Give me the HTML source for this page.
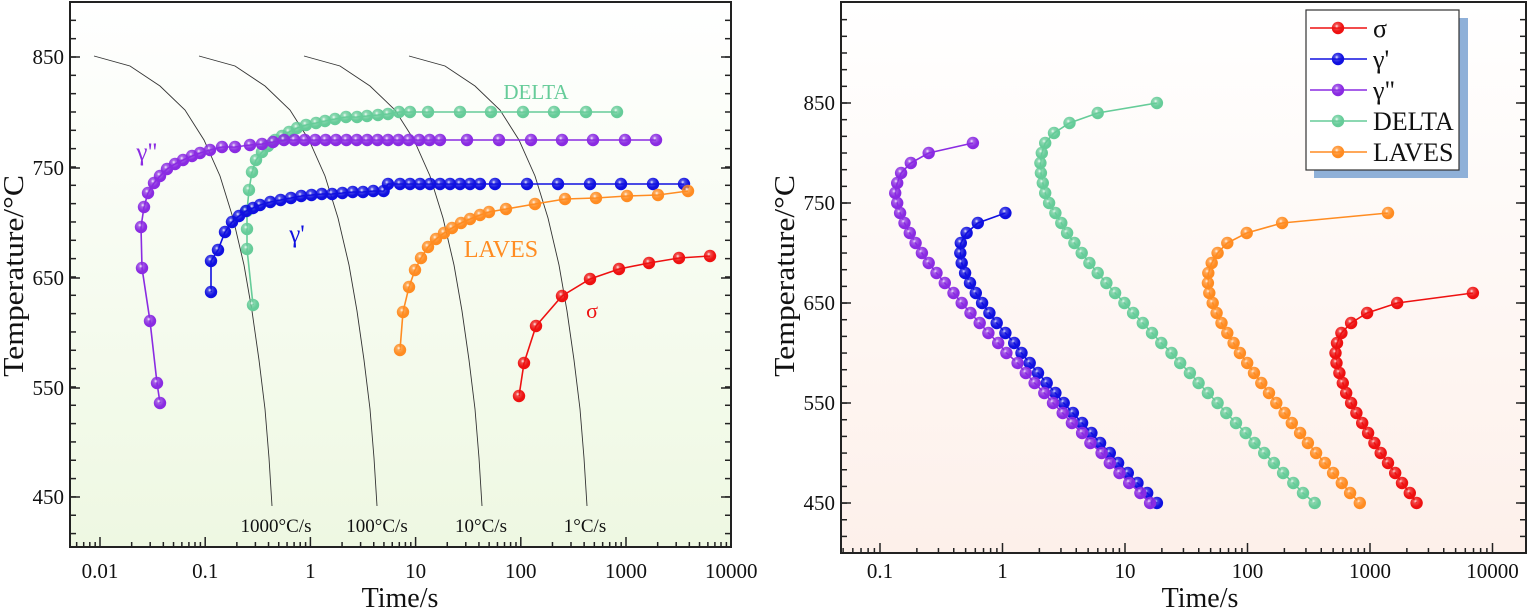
<!DOCTYPE html>
<html><head><meta charset="utf-8"><style>
html,body{margin:0;padding:0;background:#fff;}
svg{display:block;font-family:"Liberation Serif",serif;}
</style></head><body>
<svg id="s" width="1530" height="609" xmlns="http://www.w3.org/2000/svg">
<defs>
<linearGradient id="bgL" x1="0" y1="0" x2="0" y2="1"><stop offset="0" stop-color="#ffffff"/><stop offset="1" stop-color="#eef8e2"/></linearGradient>
<linearGradient id="bgR" x1="0" y1="0" x2="0" y2="1"><stop offset="0" stop-color="#ffffff"/><stop offset="1" stop-color="#fdf0ea"/></linearGradient>
</defs>
</svg>
<script>
const NS="http://www.w3.org/2000/svg",S=document.getElementById('s');
function el(t,a,txt){const e=document.createElementNS(NS,t);for(const k in a)e.setAttribute(k,a[k]);if(txt!==undefined)e.textContent=txt;S.appendChild(e);return e;}
const cols={r:'#ee1111',b:'#1010e0',p:'#8a2be2',g:'#66cc99',o:'#ff8c22'};
const defs=S.querySelector('defs');
for(const k in cols){const g=document.createElementNS(NS,'radialGradient');g.setAttribute('id','m'+k);g.setAttribute('cx','0.4');g.setAttribute('cy','0.35');g.setAttribute('r','0.65');
g.innerHTML='<stop offset="0" stop-color="#ffffff"/><stop offset="0.25" stop-color="'+cols[k]+'" stop-opacity="0.75"/><stop offset="0.7" stop-color="'+cols[k]+'"/><stop offset="1" stop-color="'+cols[k]+'"/>';defs.appendChild(g);}
function series(pts,k,r){el('polyline',{points:pts.map(p=>p.join(',')).join(' '),fill:'none',stroke:cols[k],'stroke-width':1.6});
for(const p of pts)el('circle',{cx:p[0],cy:p[1],r:r||6.2,fill:'url(#m'+k+')'});}
// ---------- LEFT PLOT ----------
el('rect',{x:70,y:2,width:661,height:545,fill:'url(#bgL)'});
const base=[[94,56],[130,66],[160,86],[185,110],[204,140],[220,176],[233,218],[244,265],[252,311],[259,360],[265,409],[269,458],[272,506]];
for(let i=0;i<4;i++){const off=i*105;el('polyline',{points:base.map(p=>(p[0]+off)+','+p[1]).join(' '),fill:'none',stroke:'#333','stroke-width':0.9});}
const cl=['1000°C/s','100°C/s','10°C/s','1°C/s'];
[276,377,481,585].forEach((x,i)=>el('text',{x:x,y:532,'font-size':19,'text-anchor':'middle',fill:'#111'},cl[i]));
let P=[[160,403],[157,383],[150,321],[142,268],[141,227],[144,207],[148,193],[154,183],[160,176],[167,169],[175,164],[183,160],[192,156],[200,153],[210,150],[222,147],[235,147],[250,145],[262,144],[273,142]];
for(let x=284;x<=450;x+=10.4)P.push([x,140]);[467,499,531,562,593,625,656].forEach(x=>P.push([x,140]));
let G=[[253,305],[247,249],[247,229],[247,211],[249,190],[252,172],[256,160],[262,152],[268,146],[275,140],[282,136],[289,132],[297,128],[306,125],[316,123],[325,121],[335,119],[346,117],[357,117],[367,116],[378,115],[388,114],[399,112],[410,112]];
[428,460,491,523,554,586,617].forEach(x=>G.push([x,112]));
let B=[[211,292],[211,261]];for(let x=218;x<388;){B.push([x,Math.round(184+1350/(x-198.5)*0.95)]);x+= x<260?7:10.3;}
[388,400,410,420,430,440,450,460,470,480,495,527,558,590,621,653,684].forEach(x=>B.push([x,184]));
let O=[[400,350],[403,312],[409,287],[415,270],[421,258],[428,247],[436,239],[444,233],[452,228],[461,223],[470,219],[480,215],[489,212],[506,209],[535,204],[565,199],[596,198],[627,196],[658,195],[688,191]];
let R=[[519,396],[524,363],[536,326],[562,296],[590,279],[619,269],[649,263],[679,258],[710,256]];
series(G,'g');series(P,'p');series(B,'b');series(O,'o');series(R,'r');
el('text',{x:536,y:99,'font-size':21,fill:'#66cc99','text-anchor':'middle'},'DELTA');
el('text',{x:147,y:160,'font-size':25,fill:'#8a2be2','text-anchor':'middle'},'γ"');
el('text',{x:297,y:242,'font-size':25,fill:'#1010e0','text-anchor':'middle'},"γ'");
el('text',{x:501,y:257,'font-size':24,fill:'#ff8c22','text-anchor':'middle'},'LAVES');
el('text',{x:592,y:318,'font-size':22,fill:'#ee1111','text-anchor':'middle'},'σ');
function axes(x0,x1,y0,y1,decX0,decPx,firstDec,nDec,yTicks,yLab,minorSp,xlabs,labx){
 el('rect',{x:x0,y:y0,width:x1-x0,height:y1-y0,fill:'none',stroke:'#222','stroke-width':2});
 for(let y=yTicks[0]-minorSp*10;y<=y1;y+=minorSp){if(y<=y0+1||y>=y1-1)continue;
  el('line',{x1:x1,y1:y,x2:x1-6,y2:y,stroke:'#222','stroke-width':1.5});
  el('line',{x1:x0,y1:y,x2:x0+6,y2:y,stroke:'#222','stroke-width':1.5});}
 yTicks.forEach((y,i)=>{el('line',{x1:x0,y1:y,x2:x0+10,y2:y,stroke:'#222','stroke-width':1.5});
  el('line',{x1:x1,y1:y,x2:x1-10,y2:y,stroke:'#222','stroke-width':1.5});
  el('text',{x:x0-6,y:y+7,'font-size':21,'text-anchor':'end',fill:'#111'},yLab[i]);});
 for(let d=firstDec-1;d<firstDec+nDec;d++){for(let m=1;m<10;m++){const x=decX0+(d-firstDec)*decPx+Math.log10(m)*decPx;
  if(x<x0+1||x>x1-1)continue;el('line',{x1:x,y1:y1,x2:x,y2:y1-(m==1?10:5),stroke:'#222','stroke-width':1.5});}}
 xlabs.forEach((l,i)=>el('text',{x:decX0+i*decPx,y:578,'font-size':21,'text-anchor':'middle',fill:'#111'},l));
 el('text',{x:labx,y:607,'font-size':28,'text-anchor':'middle',fill:'#111'},'Time/s');
 el('text',{x:0,y:0,'font-size':28,'text-anchor':'middle',fill:'#111',transform:'translate('+(x0-47)+',276) rotate(-90) scale(1.13,1)'},'Temperature/°C');
}
axes(70,731,2,547,100,105.2,0,7,[57,168,278,388,497],['850','750','650','550','450'],18.33,['0.01','0.1','1','10','100','1000','10000'],400);
// ---------- RIGHT PLOT ----------
el('rect',{x:841,y:2,width:685,height:551,fill:'url(#bgR)'});
function rs(tab){return tab.map(p=>[+(p[1]/2.06+770).toFixed(1),103+(850-p[0])]);}
const rp=[[450,783],[460,763],[470,740],[480,720],[490,700],[500,683],[510,660],[520,643],[530,622],[540,603],[550,583],[560,565],[570,545],[580,527],[590,510],[600,487],[610,470],[620,450],[630,432],[640,413],[650,395],[660,378],[670,360],[680,343],[690,327],[700,313],[710,300],[720,288],[730,277],[740,268],[750,262],[760,258],[770,262],[780,270],[790,290],[800,327],[810,418]];
const rb=[[450,797],[460,777],[470,757],[480,737],[490,717],[500,700],[510,680],[520,662],[530,643],[540,624],[550,605],[560,588],[570,570],[580,552],[590,535],[600,518],[610,503],[620,485],[630,467],[640,452],[650,437],[660,424],[670,412],[680,402],[690,395],[700,392],[710,393],[720,405],[730,428],[740,485]];
const rg=[[450,1122],[460,1098],[470,1078],[480,1057],[490,1038],[500,1018],[510,998],[520,980],[530,960],[540,940],[550,922],[560,902],[570,883],[580,865],[590,845],[600,827],[610,806],[620,787],[630,768],[640,748],[650,730],[660,711],[670,693],[680,675],[690,658],[700,642],[710,627],[720,612],[730,600],[740,588],[750,575],[760,567],[770,562],[780,558],[790,557],[800,560],[810,567],[820,585],[830,617],[840,675],[850,797]];
const ro=[[450,1215],[460,1195],[470,1178],[480,1160],[490,1143],[500,1125],[510,1108],[520,1092],[530,1075],[540,1060],[550,1043],[560,1028],[570,1012],[580,997],[590,983],[600,968],[610,955],[620,942],[630,930],[640,920],[650,912],[660,905],[670,902],[680,903],[690,910],[700,922],[710,942],[720,982],[730,1055],[740,1273]];
const rr=[[450,1332],[460,1318],[470,1302],[480,1288],[490,1273],[500,1258],[510,1245],[520,1232],[530,1220],[540,1208],[550,1197],[560,1187],[570,1180],[580,1173],[590,1167],[600,1165],[610,1168],[620,1177],[630,1197],[640,1230],[650,1292],[660,1448]];
series(rs(rg),'g');series(rs(ro),'o');series(rs(rr),'r');series(rs(rb),'b');series(rs(rp),'p');
axes(841,1526,2,553,880,122.5,-1,6,[103,203,303,403,503],['850','750','650','550','450'],16.67,['0.1','1','10','100','1000','10000'],1200);
el('rect',{x:1314,y:18,width:154,height:160,fill:'#8fb0d8'});
el('rect',{x:1306,y:10,width:153,height:160,fill:'#fff',stroke:'#333','stroke-width':1.2});
[['r','σ'],['b',"γ'"],['p','γ"'],['g','DELTA'],['o','LAVES']].forEach((e,i)=>{const y=28+i*31;
 el('line',{x1:1310,y1:y,x2:1367,y2:y,stroke:cols[e[0]],'stroke-width':1.6});
 el('circle',{cx:1338,cy:y,r:6.2,fill:'url(#m'+e[0]+')'});
 el('text',{x:1373,y:y+9,'font-size':26,fill:'#111'},e[1]);});
</script>
</body></html>
